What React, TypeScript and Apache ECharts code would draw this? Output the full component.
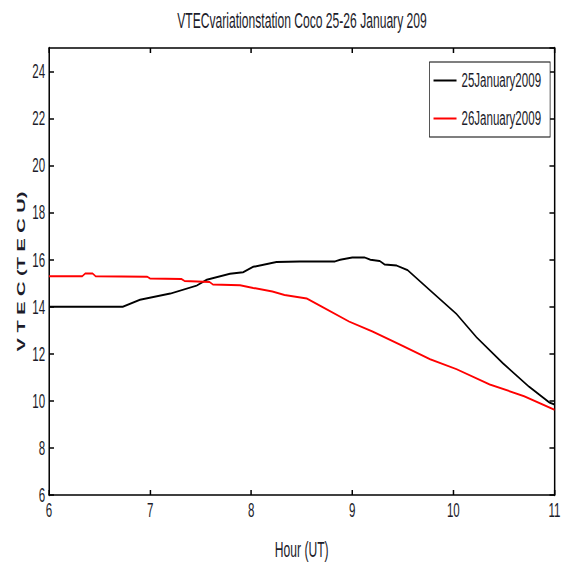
import React, { useEffect, useRef } from "react";
import * as echarts from "echarts";

const titleText = "VTECvariationstation Coco 25-26 January 209";
const seriesNames = ["25January2009", "26January2009"];
const xAxisName = "Hour (UT)";
const yAxisName = "V T E C (T E C U)";
const xTicks = { min: 6, max: 11, interval: 1 };
const yTicks = { min: 6, max: 25, interval: 2 };

// [hour UT, VTEC (TECU)]
const jan25: [number, number][] = [
  [6.0, 14.0], [6.73, 14.0], [6.9, 14.3], [7.2, 14.56], [7.46, 14.9], [7.56, 15.15],
  [7.79, 15.4], [7.92, 15.47], [8.02, 15.7], [8.25, 15.9], [8.48, 15.93], [8.83, 15.93],
  [8.88, 16.0], [9.0, 16.1], [9.12, 16.1], [9.18, 16.0], [9.27, 15.95], [9.32, 15.8],
  [9.44, 15.75], [9.55, 15.55], [9.77, 14.7], [10.03, 13.7], [10.23, 12.7], [10.49, 11.6],
  [10.75, 10.6], [10.95, 9.93], [11.0, 9.85],
];
const jan26: [number, number][] = [
  [6.0, 15.3], [6.33, 15.3], [6.36, 15.42], [6.43, 15.42], [6.46, 15.3], [6.97, 15.28],
  [7.0, 15.2], [7.31, 15.18], [7.34, 15.1], [7.59, 15.05], [7.62, 14.95], [7.89, 14.92],
  [8.02, 14.8], [8.21, 14.65], [8.33, 14.5], [8.55, 14.35], [8.7, 14.0], [8.97, 13.37],
  [9.2, 12.95], [9.47, 12.4], [9.77, 11.77], [10.03, 11.35], [10.36, 10.7], [10.7, 10.2],
  [11.0, 9.62],
];

// the reference is horizontally squeezed; draw wide, then compress with CSS
const S = 0.55;
const PAGE_W = 562;
const PAGE_H = 566;
const CW = Math.round(PAGE_W / S);
const px = (v: number) => v / S; // page px (horizontal) -> chart px

const FONT = "'Liberation Sans', Arial, Helvetica, sans-serif";
const TXT = "#1c1c2a";

export default function App() {
  const ref = useRef<HTMLDivElement>(null);
  useEffect(() => {
    if (!ref.current) return;
    const chart = echarts.init(ref.current, undefined, { renderer: "svg" });
    const hLine = { color: "#000", width: 1.5 };
    const vLine = { color: "#000", width: 1.5 / S };
    const plotLeft = px(49);
    const plotRight = px(555);
    chart.setOption({
      animation: false,
      backgroundColor: "#fff",
      textStyle: { fontFamily: FONT },
      graphic: [
        {
          type: "text",
          x: (plotLeft + plotRight) / 2,
          y: 10,
          style: {
            text: titleText,
            align: "center",
            verticalAlign: "top",
            fill: TXT,
            font: `22px ${FONT}`,
          },
        },
      ],
      grid: { left: plotLeft, right: px(PAGE_W - 555), top: 48, bottom: 66 },
      legend: {
        data: seriesNames,
        orient: "vertical",
        right: px(12),
        top: 62,
        icon: "rect",
        backgroundColor: "#fff",
        borderColor: "#000",
        borderWidth: 1.2,
        borderRadius: 0,
        padding: [8, px(9), 8, px(4)],
        itemGap: 17,
        itemWidth: px(23),
        itemHeight: 2,
        textStyle: { fontFamily: FONT, fontSize: 21, color: TXT, padding: [0, 0, 0, 4] },
      },
      xAxis: [
        {
          type: "value",
          min: xTicks.min,
          max: xTicks.max,
          interval: xTicks.interval,
          position: "bottom",
          name: xAxisName,
          nameLocation: "middle",
          nameGap: 44,
          nameTextStyle: { fontFamily: FONT, fontSize: 22, color: TXT },
          axisLine: { show: true, lineStyle: hLine },
          axisTick: { show: true, inside: true, length: 5, lineStyle: vLine },
          axisLabel: { margin: 5, fontFamily: FONT, fontSize: 21, color: TXT },
          splitLine: { show: false },
        },
        {
          type: "value",
          min: xTicks.min,
          max: xTicks.max,
          interval: xTicks.interval,
          position: "top",
          axisLine: { show: true, lineStyle: hLine },
          axisTick: { show: true, inside: true, length: 5, lineStyle: vLine },
          axisLabel: { show: false },
          splitLine: { show: false },
        },
      ],
      yAxis: [
        {
          type: "value",
          min: yTicks.min,
          max: yTicks.max,
          interval: yTicks.interval,
          position: "left",
          name: yAxisName,
          nameLocation: "middle",
          nameGap: 28,
          nameTextStyle: { fontFamily: FONT, fontSize: 20, fontWeight: "bold", color: TXT },
          axisLine: { show: true, lineStyle: vLine },
          axisTick: { show: true, inside: true, length: px(5), lineStyle: hLine },
          axisLabel: { margin: 7, fontFamily: FONT, fontSize: 21, color: TXT, showMaxLabel: false },
          splitLine: { show: false },
        },
        {
          type: "value",
          min: yTicks.min,
          max: yTicks.max,
          interval: yTicks.interval,
          position: "right",
          axisLine: { show: true, lineStyle: vLine },
          axisTick: { show: true, inside: true, length: px(5), lineStyle: hLine },
          axisLabel: { show: false },
          splitLine: { show: false },
        },
      ],
      series: [
        {
          name: seriesNames[0],
          type: "line",
          data: jan25,
          symbol: "none",
          lineStyle: { color: "#000", width: 2 },
          itemStyle: { color: "#000" },
        },
        {
          name: seriesNames[1],
          type: "line",
          data: jan26,
          symbol: "none",
          lineStyle: { color: "#ff0000", width: 2 },
          itemStyle: { color: "#ff0000" },
        },
      ],
    });
    return () => chart.dispose();
  }, []);
  return (
    <div
      style={{
        position: "fixed",
        left: 0,
        top: 0,
        width: PAGE_W,
        height: PAGE_H,
        overflow: "hidden",
        background: "#fff",
      }}
    >
      <div
        ref={ref}
        style={{
          width: CW,
          height: PAGE_H,
          transform: `scaleX(${S})`,
          transformOrigin: "0 0",
        }}
      />
    </div>
  );
}
